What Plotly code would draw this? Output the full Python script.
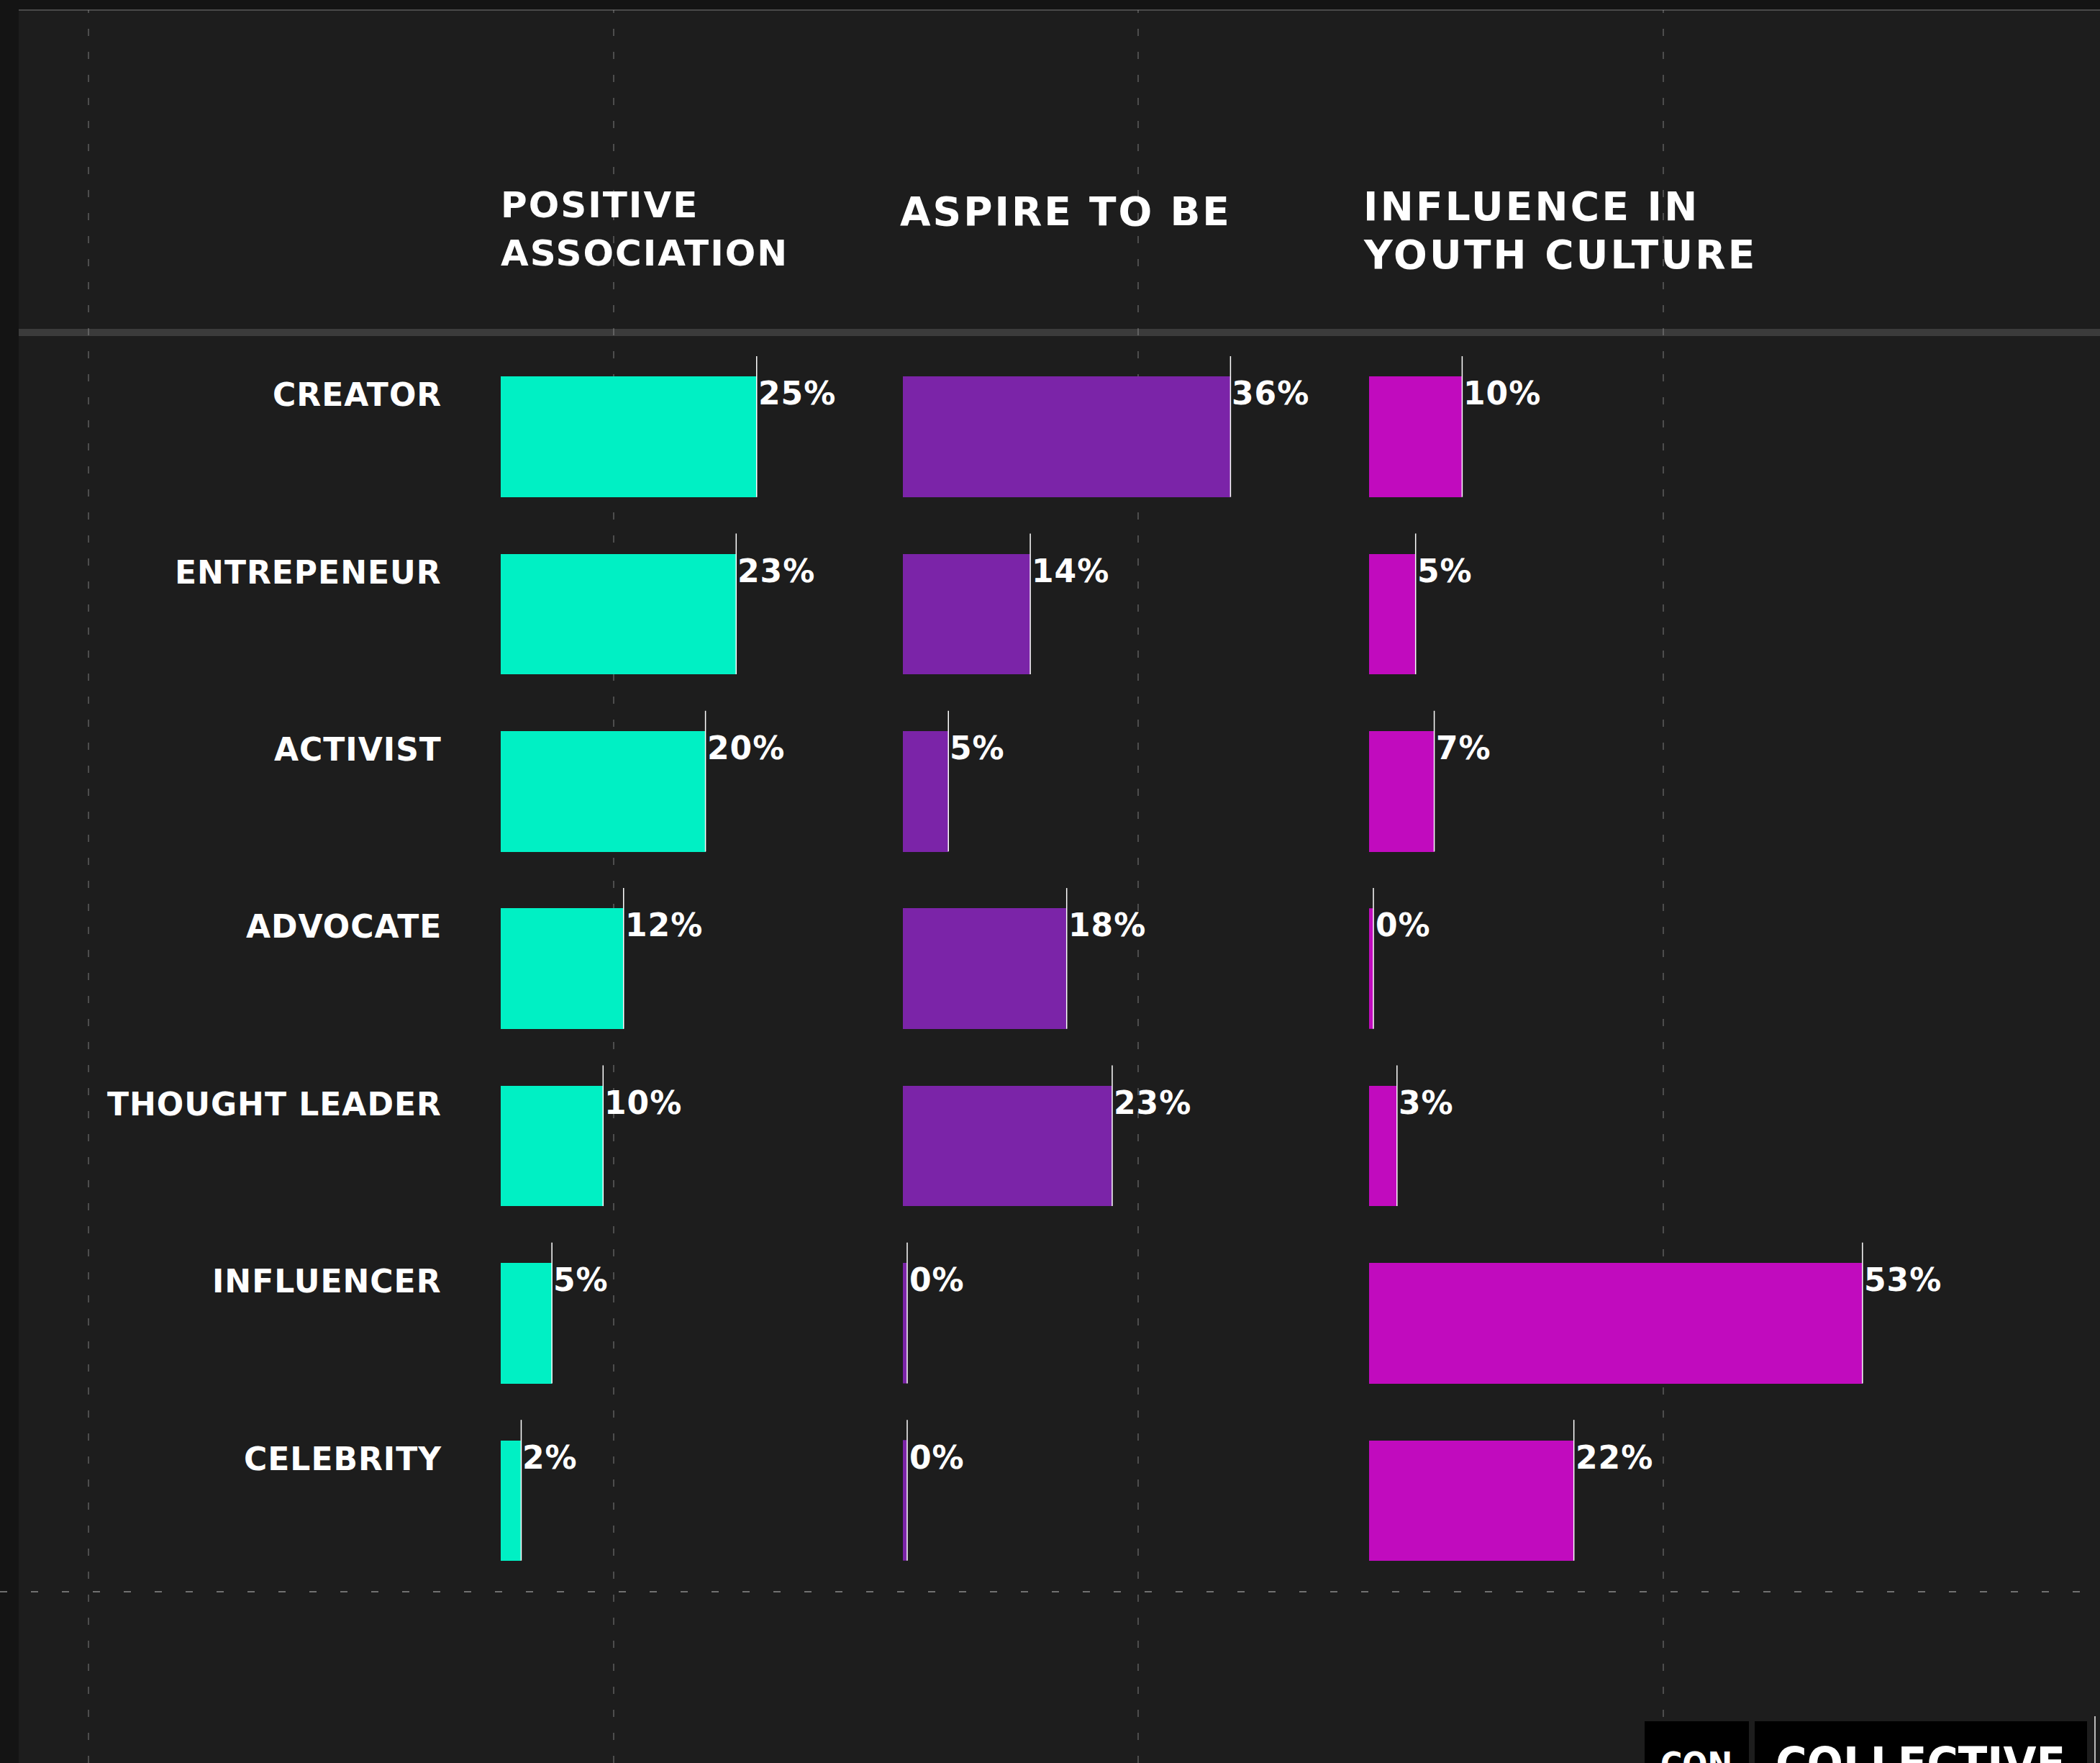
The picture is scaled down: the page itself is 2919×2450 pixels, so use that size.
import plotly.graph_objects as go

# ---------------- data ----------------
categories = ["CREATOR", "ENTREPENEUR", "ACTIVIST", "ADVOCATE",
              "THOUGHT LEADER", "INFLUENCER", "CELEBRITY"]
positive_association = [25, 23, 20, 12, 10, 5, 2]
aspire_to_be = [36, 14, 5, 18, 23, 0, 0]
influence_youth = [10, 5, 7, 0, 3, 53, 22]
panel_titles = [["POSITIVE", "ASSOCIATION"], ["ASPIRE TO BE"], ["INFLUENCE IN", "YOUTH CULTURE"]]

# ---------------- style ----------------
W, H = 2919, 2450
TEAL, PURPLE, MAGENTA = "#00F0C4", "#7B24A8", "#C10BBE"
FONT = "DejaVu Sans"
BAR_W = 0.68


def px(x):
    return x / W


def py(y):
    return 1 - y / H


def spaced(text, ls):
    return f'<span style="letter-spacing:{ls}px">{text}</span>'


panels = [
    dict(vals=positive_association, color=TEAL, xa="x", dom=(696, 1236), scale=14.23,
         title=panel_titles[0], tx=694, ty=[285, 352], tsize=50, tls=2),
    dict(vals=aspire_to_be, color=PURPLE, xa="x2", dom=(1255, 1795), scale=12.65,
         title=panel_titles[1], tx=1249, ty=[294], tsize=55, tls=3),
    dict(vals=influence_youth, color=MAGENTA, xa="x3", dom=(1903, 2850), scale=12.94,
         title=panel_titles[2], tx=1893, ty=[287, 354], tsize=55, tls=3.2),
]

fig = go.Figure()
shapes = []
annotations = []

# background frame
shapes.append(dict(type="rect", xref="paper", yref="paper", x0=px(26), x1=1.0, y0=0, y1=py(14),
                   fillcolor="#1d1d1d", line=dict(width=0), layer="below"))
shapes.append(dict(type="line", xref="paper", yref="paper", x0=px(26), x1=1.0, y0=py(14), y1=py(14),
                   line=dict(color="#4a4a4a", width=2), layer="below"))
shapes.append(dict(type="line", xref="paper", yref="paper", x0=px(26), x1=1.0, y0=py(462), y1=py(462),
                   line=dict(color="rgba(170,170,170,0.22)", width=10), layer="below"))

# decorative dashed grid
for gx in [123, 853, 1582, 2312]:
    shapes.append(dict(type="line", xref="paper", yref="paper", x0=px(gx), x1=px(gx), y0=0, y1=py(14),
                       line=dict(color="rgba(170,170,170,0.45)", width=1.5, dash="10px,22px"),
                       layer="below"))
shapes.append(dict(type="line", xref="paper", yref="paper", x0=0, x1=1, y0=py(2212), y1=py(2212),
                   line=dict(color="rgba(170,170,170,0.6)", width=2, dash="10px,33px"), layer="below"))

ZERO_PX = 6

# bars
for p in panels:
    fig.add_trace(go.Bar(
        x=p["vals"], y=categories, orientation="h", width=BAR_W,
        marker=dict(color=p["color"], line=dict(width=0)),
        xaxis=p["xa"], yaxis="y", hoverinfo="skip", showlegend=False,
    ))
    for i, (c, v) in enumerate(zip(categories, p["vals"])):
        top_y = i - BAR_W / 2 - 0.114
        if v == 0:
            shapes.append(dict(type="rect", xref=p["xa"], yref="y", xsizemode="pixel", xanchor=v,
                               x0=0, x1=ZERO_PX, y0=i - BAR_W / 2, y1=i + BAR_W / 2,
                               fillcolor=p["color"], line=dict(width=0)))
            shapes.append(dict(type="line", xref=p["xa"], yref="y", xsizemode="pixel", xanchor=v,
                               x0=ZERO_PX, x1=ZERO_PX, y0=top_y, y1=i + BAR_W / 2,
                               line=dict(color="white", width=1.5)))
            shift = ZERO_PX + 1
        else:
            shapes.append(dict(type="line", xref=p["xa"], yref="y", x0=v, x1=v,
                               y0=top_y, y1=i + BAR_W / 2,
                               line=dict(color="white", width=1.5)))
            shift = 0
        annotations.append(dict(xref=p["xa"], yref="y", x=v, y=c, xanchor="left", yanchor="middle",
                                xshift=shift, yshift=60, showarrow=False, text=spaced(f"{v}%", 1),
                                font=dict(family=FONT, size=44, color="white", weight="bold")))
    for line_text, ty in zip(p["title"], p["ty"]):
        annotations.append(dict(xref="paper", yref="paper", x=px(p["tx"]), y=py(ty),
                                xanchor="left", yanchor="middle", align="left", showarrow=False,
                                text=spaced(line_text, p["tls"]),
                                font=dict(family=FONT, size=p["tsize"], color="white", weight="bold")))

# category labels
for c in categories:
    annotations.append(dict(xref="paper", yref="y", x=px(616), y=c, xanchor="right", yanchor="middle",
                            yshift=58, showarrow=False, text=spaced(c, 1),
                            font=dict(family=FONT, size=44, color="white", weight="bold")))

# logo block (bottom right, cut off as in the source image)
shapes.append(dict(type="rect", xref="paper", yref="paper", x0=px(2286), x1=px(2431), y0=-0.01, y1=py(2392),
                   fillcolor="black", line=dict(width=0)))
shapes.append(dict(type="rect", xref="paper", yref="paper", x0=px(2439), x1=px(2901), y0=-0.01, y1=py(2392),
                   fillcolor="black", line=dict(width=0)))
shapes.append(dict(type="line", xref="paper", yref="paper", x0=px(2912), x1=px(2912), y0=0, y1=py(2385),
                   line=dict(color="#bbbbbb", width=2)))
annotations.append(dict(xref="paper", yref="paper", x=px(2358), y=py(2452), xanchor="center",
                        yanchor="middle", showarrow=False, text="CON",
                        font=dict(family="DejaVu Sans Condensed, DejaVu Sans", size=46, color="white",
                                  weight="bold")))
annotations.append(dict(xref="paper", yref="paper", x=px(2669), y=py(2452), xanchor="center",
                        yanchor="middle", showarrow=False, text="COLLECTIVE",
                        font=dict(family="DejaVu Sans Condensed, DejaVu Sans", size=66, color="white",
                                  weight="bold")))

axis_common = dict(visible=False, showgrid=False, zeroline=False, fixedrange=True)
layout_axes = {}
for k, p in enumerate(panels):
    name = "xaxis" if k == 0 else f"xaxis{k + 1}"
    width_px = p["dom"][1] - p["dom"][0]
    layout_axes[name] = dict(domain=[px(p["dom"][0]), px(p["dom"][1])],
                             range=[0, width_px / p["scale"]], anchor="y", **axis_common)

pitch = 246.35
c0 = 606.9
top = c0 - pitch / 2
bottom = c0 + 6 * pitch + pitch / 2

fig.update_layout(
    width=W, height=H,
    margin=dict(l=0, r=0, t=0, b=0),
    paper_bgcolor="#141414", plot_bgcolor="rgba(0,0,0,0)",
    yaxis=dict(domain=[py(bottom), py(top)], type="category", categoryorder="array",
               categoryarray=categories, range=[6.5, -0.5], **axis_common),
    shapes=shapes, annotations=annotations, bargap=0, showlegend=False,
    **layout_axes,
)

fig.write_html("out.html")
